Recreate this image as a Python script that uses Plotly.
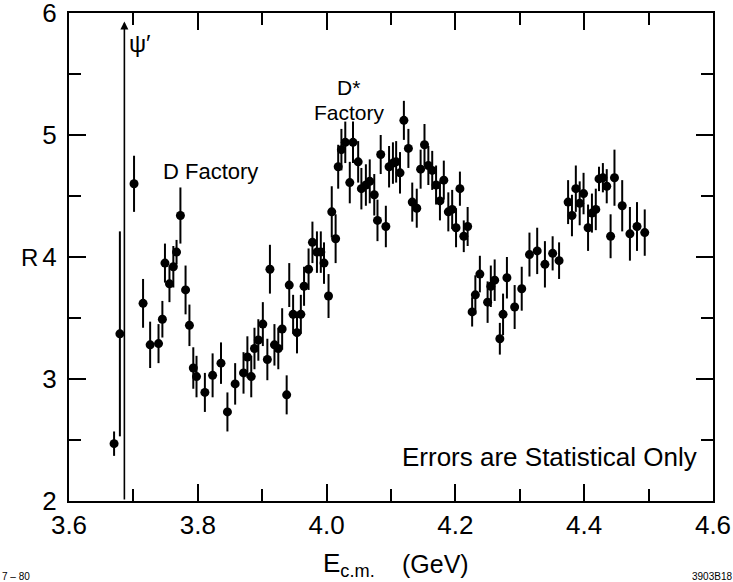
import plotly.graph_objects as go

# Centre-of-mass energy (GeV)
E = [3.670, 3.679, 3.701, 3.715, 3.726, 3.739, 3.745, 3.749, 3.756, 3.762,
     3.767, 3.773, 3.781, 3.787, 3.793, 3.798, 3.811, 3.823, 3.836, 3.846,
     3.858, 3.871, 3.877, 3.883, 3.888, 3.894, 3.901, 3.908, 3.912, 3.919,
     3.925, 3.931, 3.938, 3.942, 3.948, 3.954, 3.960, 3.965, 3.972, 3.978,
     3.985, 3.991, 3.996, 4.003, 4.008, 4.014, 4.018, 4.023, 4.029, 4.036,
     4.041, 4.049, 4.054, 4.061, 4.067, 4.074, 4.079, 4.084, 4.092, 4.097,
     4.103, 4.108, 4.114, 4.120, 4.127, 4.133, 4.140, 4.146, 4.152, 4.158,
     4.164, 4.170, 4.176, 4.182, 4.189, 4.195, 4.201, 4.207, 4.213, 4.219,
     4.226, 4.231, 4.238, 4.250, 4.255, 4.261, 4.269, 4.274, 4.280, 4.292,
     4.303, 4.315, 4.327, 4.339, 4.351, 4.361, 4.375, 4.381, 4.387, 4.393,
     4.399, 4.406, 4.412, 4.418, 4.423, 4.429, 4.435, 4.441, 4.447, 4.459,
     4.471, 4.482, 4.494]

# R ratio
R = [2.47, 3.37, 4.60, 3.62, 3.28, 3.29, 3.49, 3.95, 3.78, 3.92,
     4.04, 4.34, 3.73, 3.44, 3.09, 3.02, 2.89, 3.03, 3.13, 2.73,
     2.96, 3.05, 3.18, 3.02, 3.25, 3.32, 3.45, 3.16, 3.90, 3.28,
     3.25, 3.41, 2.87, 3.77, 3.53, 3.38, 3.53, 3.76, 3.90, 4.12,
     4.04, 4.04, 3.95, 3.68, 4.37, 4.15, 4.74, 4.88, 4.94, 4.61,
     4.94, 4.78, 4.56, 4.59, 4.62, 4.51, 4.30, 4.84, 4.25, 4.74,
     4.77, 4.78, 4.69, 5.12, 4.89, 4.45, 4.40, 4.72, 4.92, 4.75,
     4.71, 4.59, 4.46, 4.63, 4.37, 4.39, 4.24, 4.56, 4.17, 4.25,
     3.55, 3.69, 3.86, 3.63, 3.76, 3.81, 3.33, 3.53, 3.83, 3.59,
     3.74, 4.02, 4.05, 3.94, 4.03, 3.97, 4.45, 4.34, 4.56, 4.44,
     4.52, 4.24, 4.36, 4.39, 4.64, 4.65, 4.58, 4.17, 4.65, 4.42,
     4.19, 4.25, 4.20]

# Statistical errors on R
dR = [0.10, 0.84, 0.23, 0.20, 0.19, 0.16, 0.15, 0.16, 0.15, 0.17,
      0.10, 0.23, 0.20, 0.17, 0.17, 0.17, 0.16, 0.18, 0.17, 0.16,
      0.17, 0.17, 0.17, 0.17, 0.17, 0.17, 0.18, 0.17, 0.20, 0.17,
      0.17, 0.17, 0.16, 0.18, 0.16, 0.17, 0.16, 0.16, 0.17, 0.17,
      0.17, 0.17, 0.17, 0.18, 0.21, 0.20, 0.18, 0.17, 0.17, 0.17,
      0.17, 0.17, 0.17, 0.17, 0.18, 0.17, 0.17, 0.16, 0.17, 0.17,
      0.17, 0.17, 0.17, 0.16, 0.16, 0.16, 0.16, 0.16, 0.17, 0.16,
      0.16, 0.16, 0.16, 0.16, 0.16, 0.16, 0.16, 0.14, 0.13, 0.16,
      0.12, 0.16, 0.15, 0.17, 0.17, 0.17, 0.13, 0.17, 0.17, 0.18,
      0.18, 0.18, 0.19, 0.19, 0.14, 0.15, 0.18, 0.17, 0.19, 0.18,
      0.17, 0.19, 0.16, 0.17, 0.10, 0.12, 0.14, 0.18, 0.23, 0.21,
      0.22, 0.20, 0.19]

x_major = [3.6, 3.8, 4.0, 4.2, 4.4, 4.6]
x_major_text = ["3.6", "3.8", "4.0", "4.2", "4.4", "4.6"]
x_minor = [3.7, 3.9, 4.1, 4.3, 4.5]
y_major = [2, 3, 4, 5, 6]
y_minor = [2.5, 3.5, 4.5, 5.5]

psi_prime_mass = 3.686

FONT = "Liberation Sans, Arial, sans-serif"

fig = go.Figure()
fig.add_trace(go.Scatter(
    x=E, y=R, mode="markers",
    marker=dict(color="black", size=9),
    error_y=dict(type="data", array=dR, visible=True, color="black",
                 thickness=2, width=0),
    showlegend=False,
))

common = dict(showline=True, linecolor="black", linewidth=2, mirror="ticks",
              ticks="inside", tickcolor="black", tickwidth=1.5, ticklen=17,
              showgrid=False, zeroline=False, ticklabeloverflow="allow",
              automargin=False,
              tickfont=dict(family=FONT, size=26, color="black"))

fig.update_xaxes(range=[3.6, 4.6], tickmode="array", tickvals=x_major,
                 ticktext=x_major_text,
                 minor=dict(tickmode="array", tickvals=x_minor, ticks="inside",
                            ticklen=12, tickcolor="black", tickwidth=1.5),
                 ticklabelstandoff=0, **common)
fig.update_yaxes(range=[2, 6], tickmode="array", tickvals=y_major,
                 ticktext=[str(v) for v in y_major],
                 minor=dict(tickmode="array", tickvals=y_minor, ticks="inside",
                            ticklen=12, tickcolor="black", tickwidth=1.5),
                 ticklabelstandoff=5, **common)


def px_x(p):
    return (p - 69) / 644


def px_y(p):
    return (501 - p) / 488


ann_font = dict(family=FONT, size=21, color="black")
annotations = [
    # psi' arrow
    dict(x=psi_prime_mass, y=5.93, ax=psi_prime_mass, ay=2.0,
         xref="x", yref="y", axref="x", ayref="y", text="",
         showarrow=True, arrowhead=2, arrowsize=1.0, arrowwidth=1.6,
         arrowcolor="black"),
    dict(x=px_x(140), y=px_y(43), text="ψ′",
         font=dict(family=FONT, size=24, color="black")),
    dict(x=px_x(210), y=px_y(172), text="D Factory",
         font=dict(family=FONT, size=22, color="black")),
    dict(x=px_x(348), y=px_y(88), text="D*", font=ann_font),
    dict(x=px_x(349), y=px_y(112), text="Factory", font=ann_font),
    dict(x=px_x(549), y=px_y(457), text="Errors are Statistical Only",
         font=dict(family=FONT, size=26, color="black")),
    dict(x=px_x(29), y=px_y(257), text="R",
         font=dict(family=FONT, size=24, color="black")),
    dict(x=px_x(349), y=px_y(564), text="E<sub>c.m.</sub>",
         font=dict(family=FONT, size=26, color="black")),
    dict(x=px_x(435), y=px_y(564), text="(GeV)",
         font=dict(family=FONT, size=25, color="black")),
    dict(x=px_x(16), y=px_y(576), text="7 – 80",
         font=dict(family=FONT, size=10, color="black")),
    dict(x=px_x(712), y=px_y(576), text="3903B18",
         font=dict(family=FONT, size=10, color="black")),
]
for a in annotations[1:]:
    a.update(xref="paper", yref="paper", showarrow=False,
             xanchor="center", yanchor="middle")

fig.update_layout(
    width=733, height=582,
    margin=dict(l=69, r=20, t=13, b=81),
    paper_bgcolor="white", plot_bgcolor="white",
    annotations=annotations,
    showlegend=False,
)

fig.write_html("out.html")
